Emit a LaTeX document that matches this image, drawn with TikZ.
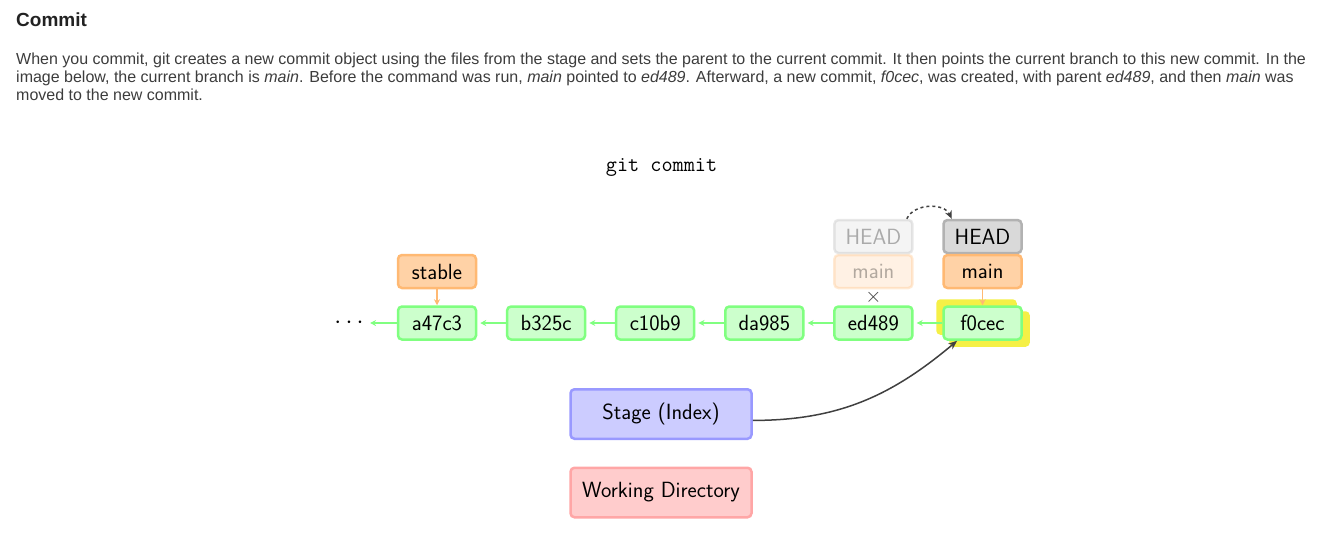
\documentclass[tikz,border=0pt]{standalone}
\usepackage{fontspec}
\newfontfamily\pagefont{Liberation Sans}
\usetikzlibrary{calc}
\usetikzlibrary{arrows.meta}
\usetikzlibrary{backgrounds}

\definecolor{titlegray}{RGB}{34,34,34}
\definecolor{textgray}{RGB}{60,60,60}
\definecolor{linkgray}{RGB}{64,64,64}
\definecolor{glow}{RGB}{245,240,70}
\tikzset{
  box/.style={draw,rounded corners=4pt,line width=2.5pt,inner sep=0pt,
    minimum width=78pt,minimum height=33pt,font=\sffamily\fontsize{22}{26}\selectfont},
  commit/.style={box,fill=green!20,draw=green!50},
  branch/.style={box,fill=orange!35,draw=orange!55},
  headbox/.style={box,fill=black!15,draw=black!30},
  ghost/.style={opacity=0.3},
  area/.style={box,minimum width=181pt,minimum height=49.5pt},
  pageline/.style={anchor=base west,inner sep=0pt,text=textgray,
    font=\pagefont\fontsize{16}{18}\selectfont},
  parentlink/.style={green!50,line width=1.2pt,-{Stealth[length=6pt,width=6pt]},shorten >=3pt},
  branchlink/.style={orange!55,line width=1.2pt,-{Stealth[length=6pt,width=6pt]}},
  headmove/.style={linkgray,line width=1.5pt,dash pattern=on 3pt off 3pt,-{Stealth[length=8pt,width=7pt]}},
  stagelink/.style={linkgray,line width=1.5pt,-{Stealth[length=9pt,width=7pt]}},
}

\begin{document}
\begin{tikzpicture}[x=1pt,y=1pt]
  % Constants
  \pgfmathsetmacro\gap{109.1}
  \pgfmathsetmacro\row{-323}
  \pgfmathsetmacro\refrow{-271.5}
  \pgfmathsetmacro\headrow{-236.5}
  % Boundary
  \path[use as bounding box] (0,0) rectangle (1319,-544);
  % Page text
  \node[anchor=base west,inner sep=0pt,text=titlegray,font=\pagefont\bfseries\fontsize{19}{23}\selectfont] (title) at (16,-26.7) {Commit};
  \node[pageline] (line1) at (16,-64.5) {When you commit, git creates a new commit object using the files from the stage and sets the parent to the current commit. It then points the current branch to this new commit. In the};
  \node[pageline] (line2) at (16,-82.3) {image below, the current branch is \textit{main}. Before the command was run, \textit{main} pointed to \textit{ed489}. Afterward, a new commit, \textit{f0cec}, was created, with parent \textit{ed489}, and then \textit{main} was};
  \node[pageline] (line3) at (16,-100) {moved to the new commit.};
  \node[anchor=base,font=\ttfamily\fontsize{21.6}{25}\selectfont] (cmd) at (661.5,-171) {git commit};
  % Commits
  \node[commit] (a47c3) at (437,\row) {a47c3};
  \node[commit] (b325c) at (437+\gap,\row) {b325c};
  \node[commit] (c10b9) at (437+2*\gap,\row) {c10b9};
  \node[commit] (da985) at (437+3*\gap,\row) {da985};
  \node[commit] (ed489) at (437+4*\gap,\row) {ed489};
  \node[commit] (f0cec) at (437+5*\gap,\row) {f0cec};
  \node[font=\fontsize{23}{27}\selectfont] (dots) at (349,\row) {$\cdots$};
  % Highlight
  \begin{scope}[on background layer]
    \fill[glow,rounded corners=4pt] ($(f0cec.south west)+(-6,6)$) rectangle ($(f0cec.north east)+(-6,6)$);
    \fill[glow,rounded corners=4pt] ($(f0cec.south west)+(7,-6)$) rectangle ($(f0cec.north east)+(7,-6)$);
  \end{scope}
  % Refs
  \node[branch] (stable) at (437,\refrow) {stable};
  \node[headbox,ghost] (oldhead) at (437+4*\gap,\headrow) {HEAD};
  \node[branch,ghost] (oldmain) at (437+4*\gap,\refrow) {main};
  \node[headbox] (head) at (437+5*\gap,\headrow) {HEAD};
  \node[branch] (main) at (437+5*\gap,\refrow) {main};
  \node[text=linkgray,font=\fontsize{21}{21}\selectfont,inner sep=0pt] (cross) at (437+4*\gap,-297) {$\times$};
  % Areas
  \node[area,fill=blue!20,draw=blue!40] (stage) at (661,-414) {Stage (Index)};
  \node[area,fill=red!20,draw=red!35] (workdir) at (661,-492.5) {Working Directory};
  % Links
  \draw[parentlink] (a47c3) -- (dots);
  \draw[parentlink] (b325c) -- (a47c3);
  \draw[parentlink] (c10b9) -- (b325c);
  \draw[parentlink] (da985) -- (c10b9);
  \draw[parentlink] (ed489) -- (da985);
  \draw[parentlink] (f0cec) -- (ed489);
  \draw[branchlink] (stable) -- (a47c3);
  \draw[branchlink] (main) -- (f0cec);
  \draw[headmove] (oldhead.28) to[out=65,in=115] (head.150);
  \draw[stagelink] (stage.-4) to[out=0,in=220] (f0cec.215);
\end{tikzpicture}
\end{document}
